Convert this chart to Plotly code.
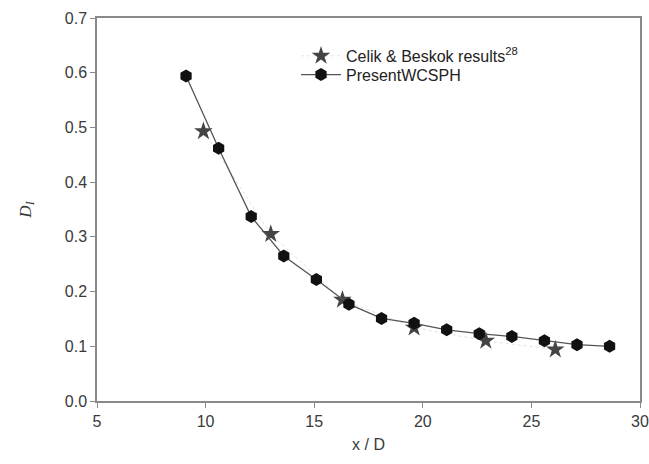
import plotly.graph_objects as go

# PresentWCSPH series
wcsph_x = [9.1, 10.6, 12.1, 13.6, 15.1, 16.6, 18.1, 19.6, 21.1, 22.6, 24.1, 25.6, 27.1, 28.6]
wcsph_y = [0.594, 0.462, 0.337, 0.265, 0.222, 0.177, 0.151, 0.142, 0.130, 0.123, 0.118, 0.110, 0.103, 0.100]

# Celik & Beskok results
celik_x = [9.9, 13.0, 16.3, 19.6, 22.9, 26.1]
celik_y = [0.493, 0.305, 0.185, 0.134, 0.110, 0.094]

x_ticks = [5, 10, 15, 20, 25, 30]
y_ticks = [0.0, 0.1, 0.2, 0.3, 0.4, 0.5, 0.6, 0.7]

fig = go.Figure()
fig.add_trace(go.Scatter(
    x=celik_x, y=celik_y, mode="lines+markers",
    name="Celik & Beskok results<sup>28</sup>",
    line=dict(color="#e2e2e2", width=1, dash="dot"),
    marker=dict(symbol="star", size=14, color="#444444", line=dict(width=0)),
    legend="legend",
))
fig.add_trace(go.Scatter(
    x=wcsph_x, y=wcsph_y, mode="lines+markers",
    name="PresentWCSPH",
    line=dict(color="#555555", width=1.3),
    marker=dict(symbol="hexagon", size=13, color="#111111", line=dict(width=0)),
    legend="legend2",
))

tickfont = dict(family="Liberation Sans, Arial", size=16, color="#3a3a3a")
axis_common = dict(
    showline=True, linecolor="#8a8a8a", linewidth=1.5, mirror=True,
    ticks="outside", ticklen=5, tickcolor="#8a8a8a", tickwidth=1.2,
    showgrid=False, zeroline=False, automargin=False,
    tickfont=tickfont, ticklabeloverflow="allow",
)

legend_common = dict(
    xanchor="left", yanchor="middle",
    bgcolor="rgba(0,0,0,0)",
    font=dict(family="Liberation Sans, Arial", size=16, color="#222222"),
    itemwidth=40,
)

fig.update_layout(
    width=649, height=464,
    margin=dict(l=97, r=9, t=18, b=63),
    paper_bgcolor="white", plot_bgcolor="white",
    showlegend=True,
    legend=dict(x=0.3665, y=0.901, **legend_common),
    legend2=dict(x=0.3665, y=0.852, **legend_common),
    xaxis=dict(range=[5, 30], tickvals=x_ticks, ticktext=[str(v) for v in x_ticks],
               title=dict(text="x / D", font=dict(family="Liberation Sans, Arial", size=16, color="#3a3a3a"), standoff=10),
               **axis_common),
    yaxis=dict(range=[0, 0.7], tickvals=y_ticks, ticktext=[f"{v:.1f}" for v in y_ticks],
               title=dict(text="<i>D<sub>I</sub></i>", font=dict(family="Liberation Serif, Times New Roman", size=17, color="#3a3a3a"), standoff=29),
               **axis_common),
)

fig.write_html(
    "out.html",
    config={"displayModeBar": False},
    post_script="document.body.style.margin='0';document.body.style.overflow='hidden';",
)
